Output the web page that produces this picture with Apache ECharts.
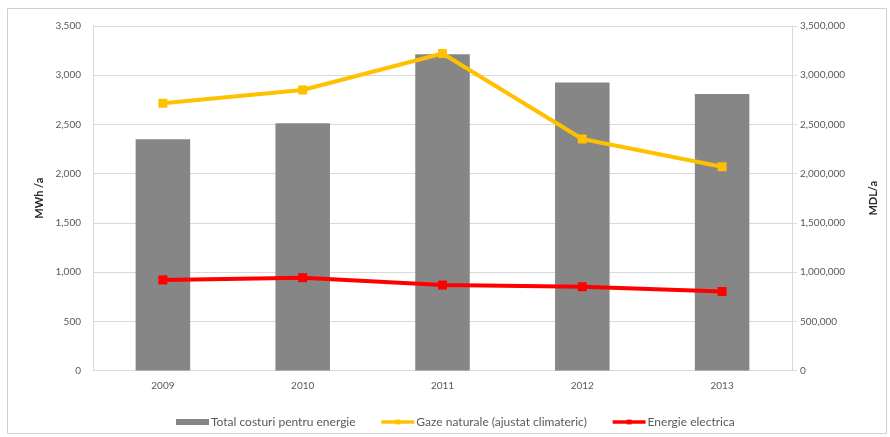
<!DOCTYPE html>
<html>
<head>
<meta charset="utf-8">
<script src="https://cdn.jsdelivr.net/npm/echarts@6/dist/echarts.min.js"></script>
<style>
  html, body { margin: 0; padding: 0; background: #fff; }
  #chart { width: 890px; height: 437px; }
</style>
</head>
<body>
<div id="chart"></div>
<script>
// Years on the category axis
const years = ['2009', '2010', '2011', '2012', '2013'];

// Total energy costs, MDL per year (right axis)
const totalCosts = [2349000, 2512000, 3214000, 2925000, 2810000];

// Natural gas consumption, climate adjusted, MWh per year (left axis)
const naturalGas = [2715, 2850, 3220, 2352, 2070];

// Electricity consumption, MWh per year (left axis)
const electricity = [920, 943, 868, 851, 802];

const FONT = 'Lato, "Open Sans", sans-serif';
const TXT = '#595959';
const GRID = '#d9d9d9';

const chart = echarts.init(document.getElementById('chart'), null, { renderer: 'canvas' });

chart.setOption({
  animation: false,
  backgroundColor: '#ffffff',
  textStyle: { fontFamily: FONT },
  graphic: [{
    type: 'rect',
    shape: { x: 7.5, y: 8.5, width: 879, height: 425 },
    style: { fill: 'none', stroke: '#d0d0d0', lineWidth: 1 },
    silent: true
  }],
  grid: { left: 93, right: 98, top: 26, bottom: 66.5 },
  legend: {
    top: 411,
    left: 171,
    itemGap: 24,
    itemWidth: 33,
    itemHeight: 6,
    textStyle: { fontFamily: FONT, fontSize: 12, color: TXT, padding: [0, 0, 0, -3] },
    data: [
      { name: 'Total costuri pentru energie', icon: 'rect', itemStyle: { color: '#868686' } },
      { name: 'Gaze naturale (ajustat climateric)', lineStyle: { width: 3.5 } },
      { name: 'Energie electrica', lineStyle: { width: 3.5 } }
    ]
  },
  xAxis: {
    type: 'category',
    data: years,
    axisLine: { lineStyle: { color: GRID, width: 1 } },
    axisTick: { show: false },
    axisLabel: { color: TXT, fontSize: 10, fontFamily: FONT, margin: 10 }
  },
  yAxis: [{
    type: 'value',
    min: 0, max: 3500, interval: 500,
    name: 'MWh /a',
    nameLocation: 'middle',
    nameRotate: 90,
    nameGap: 47,
    nameTextStyle: { fontFamily: FONT, fontSize: 11, fontWeight: 'bold', color: '#262626' },
    axisLine: { show: true, lineStyle: { color: GRID } },
    axisTick: { show: false },
    axisLabel: {
      color: TXT, fontSize: 10, fontFamily: FONT, margin: 12,
      formatter: v => v.toLocaleString('en-US')
    },
    splitLine: { lineStyle: { color: GRID, width: 1 } }
  }, {
    type: 'value',
    position: 'right',
    min: 0, max: 3500000, interval: 500000,
    name: 'MDL/a',
    nameLocation: 'middle',
    nameRotate: 90,
    nameGap: 76,
    nameTextStyle: { fontFamily: FONT, fontSize: 11, fontWeight: 'bold', color: '#262626' },
    axisLine: { show: true, lineStyle: { color: GRID } },
    axisTick: { show: true, length: 5, lineStyle: { color: GRID } },
    axisLabel: {
      color: TXT, fontSize: 10, fontFamily: FONT, margin: 8,
      formatter: v => v.toLocaleString('en-US')
    },
    splitLine: { show: false }
  }],
  series: [{
    name: 'Total costuri pentru energie',
    type: 'bar',
    yAxisIndex: 1,
    data: totalCosts,
    barWidth: '39%',
    itemStyle: { color: '#868686' },
    z: 1
  }, {
    name: 'Gaze naturale (ajustat climateric)',
    type: 'line',
    yAxisIndex: 0,
    data: naturalGas,
    symbol: 'rect',
    symbolSize: 9,
    lineStyle: { color: '#FFC000', width: 4 },
    itemStyle: { color: '#FFC000', borderWidth: 0 },
    z: 3
  }, {
    name: 'Energie electrica',
    type: 'line',
    yAxisIndex: 0,
    data: electricity,
    symbol: 'rect',
    symbolSize: 9,
    lineStyle: { color: '#FF0000', width: 4 },
    itemStyle: { color: '#FF0000', borderWidth: 0 },
    z: 3
  }]
});
</script>
</body>
</html>
